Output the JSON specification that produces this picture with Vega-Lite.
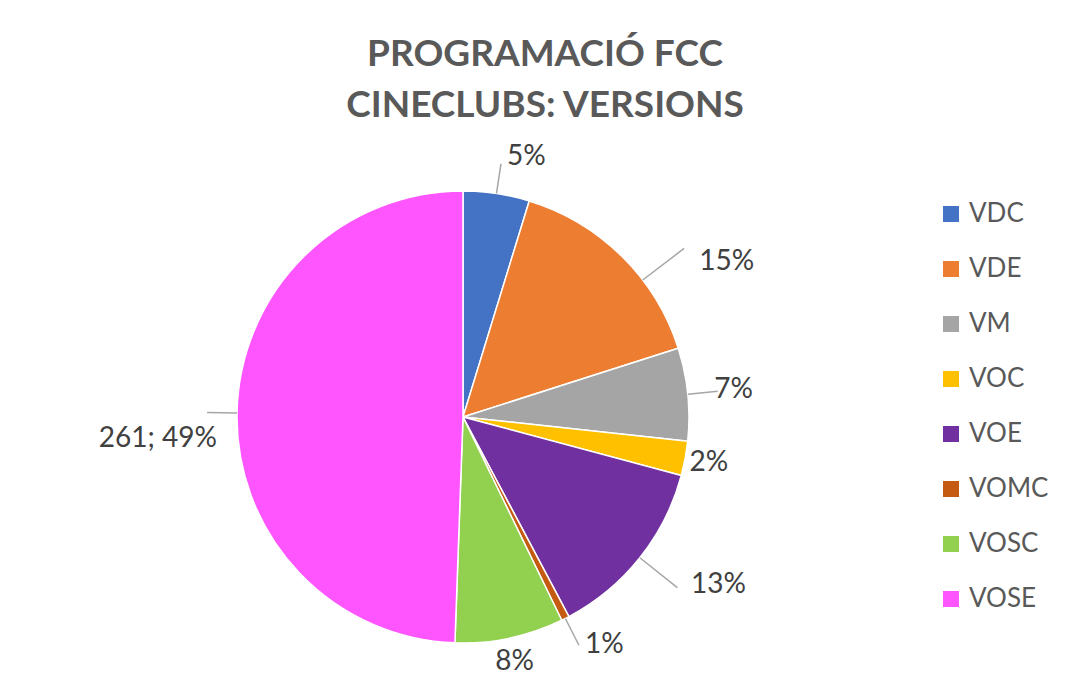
{
  "$schema": "https://vega.github.io/schema/vega-lite/v6.json",
  "width": 916,
  "height": 452,
  "padding": {"left": 5, "top": 35, "right": 0, "bottom": 0},
  "background": "white",
  "title": {
    "text": ["PROGRAMACIÓ FCC", "CINECLUBS: VERSIONS"],
    "font": "Lato",
    "fontSize": 37,
    "fontWeight": "bold",
    "color": "#595959",
    "lineHeight": 51,
    "offset": -27,
    "anchor": "middle",
    "frame": "group",
    "dx": 82
  },
  "data": {
    "values": [
      {"cat": "VDC", "count": 25, "label": "5%"},
      {"cat": "VDE", "count": 81, "label": "15%"},
      {"cat": "VM", "count": 35, "label": "7%"},
      {"cat": "VOC", "count": 13, "label": "2%"},
      {"cat": "VOE", "count": 69, "label": "13%"},
      {"cat": "VOMC", "count": 3, "label": "1%"},
      {"cat": "VOSC", "count": 41, "label": "8%"},
      {"cat": "VOSE", "count": 261, "label": "261; 49%"}
    ]
  },
  "encoding": {
    "theta": {"field": "count", "type": "quantitative", "stack": true},
    "order": {"field": "cat", "type": "nominal", "sort": "ascending"}
  },
  "layer": [
    {
      "mark": {"type": "arc", "radius": 226, "stroke": "white", "strokeWidth": 1.5},
      "encoding": {
        "color": {
          "field": "cat",
          "type": "nominal",
          "scale": {
            "domain": ["VDC", "VDE", "VM", "VOC", "VOE", "VOMC", "VOSC", "VOSE"],
            "range": ["#4472C4", "#ED7D31", "#A5A5A5", "#FFC000", "#7030A0", "#C55A11", "#92D050", "#FF55FF"]
          },
          "legend": {
            "title": null,
            "orient": "right",
            "offset": 7,
            "padding": 10,
            "symbolType": "square",
            "symbolSize": 256,
            "symbolStrokeWidth": 0,
            "labelFont": "Lato",
            "labelFontSize": 26,
            "labelColor": "#595959",
            "labelOffset": 5,
            "rowPadding": 29
          }
        }
      }
    },
    {
      "mark": {"type": "arc", "radius": 256, "radius2": 226, "padAngle": 3, "fill": "transparent", "stroke": "#A6A6A6", "strokeWidth": 1.5},
      "encoding": {
        "detail": {"field": "cat", "type": "nominal"},
        "strokeOpacity": {
          "condition": {"test": "datum.cat === 'VDC' || datum.cat === 'VM' || datum.cat === 'VOMC' || datum.cat === 'VOSE'", "value": 1},
          "value": 0
        }
      }
    },
    {
      "mark": {"type": "arc", "radius": 278, "radius2": 226, "padAngle": 3, "thetaOffset": 0.14, "fill": "transparent", "stroke": "#A6A6A6", "strokeWidth": 1.5},
      "encoding": {
        "detail": {"field": "cat", "type": "nominal"},
        "strokeOpacity": {
          "condition": {"test": "datum.cat === 'VDE'", "value": 1},
          "value": 0
        }
      }
    },
    {
      "mark": {"type": "arc", "radius": 274, "radius2": 226, "padAngle": 3, "fill": "transparent", "stroke": "#A6A6A6", "strokeWidth": 1.5},
      "encoding": {
        "detail": {"field": "cat", "type": "nominal"},
        "strokeOpacity": {
          "condition": {"test": "datum.cat === 'VOE'", "value": 1},
          "value": 0
        }
      }
    },
    {
      "mark": {"type": "text", "radius": 272, "font": "Lato", "fontSize": 28, "color": "#404040"},
      "encoding": {
        "detail": {"field": "cat", "type": "nominal"},
        "text": {
          "condition": {"test": "datum.cat === 'VM'", "field": "label", "type": "nominal"},
          "value": ""
        }
      }
    },
    {
      "mark": {"type": "text", "radius": 268, "thetaOffset": 0.09, "font": "Lato", "fontSize": 28, "color": "#404040"},
      "encoding": {
        "detail": {"field": "cat", "type": "nominal"},
        "text": {
          "condition": {"test": "datum.cat === 'VDC'", "field": "label", "type": "nominal"},
          "value": ""
        }
      }
    },
    {
      "mark": {"type": "text", "radius": 268, "thetaOffset": -0.085, "font": "Lato", "fontSize": 28, "color": "#404040"},
      "encoding": {
        "detail": {"field": "cat", "type": "nominal"},
        "text": {
          "condition": {"test": "datum.cat === 'VOMC'", "field": "label", "type": "nominal"},
          "value": ""
        }
      }
    },
    {
      "mark": {"type": "text", "radius": 250, "font": "Lato", "fontSize": 28, "color": "#404040"},
      "encoding": {
        "detail": {"field": "cat", "type": "nominal"},
        "text": {
          "condition": {"test": "datum.cat === 'VOC' || datum.cat === 'VOSC'", "field": "label", "type": "nominal"},
          "value": ""
        }
      }
    },
    {
      "mark": {"type": "text", "radius": 306, "thetaOffset": 0.26, "font": "Lato", "fontSize": 28, "color": "#404040"},
      "encoding": {
        "detail": {"field": "cat", "type": "nominal"},
        "text": {
          "condition": {"test": "datum.cat === 'VDE'", "field": "label", "type": "nominal"},
          "value": ""
        }
      }
    },
    {
      "mark": {"type": "text", "radius": 306, "thetaOffset": -0.09, "font": "Lato", "fontSize": 28, "color": "#404040"},
      "encoding": {
        "detail": {"field": "cat", "type": "nominal"},
        "text": {
          "condition": {"test": "datum.cat === 'VOE' || datum.cat === 'VOSE'", "field": "label", "type": "nominal"},
          "value": ""
        }
      }
    }
  ]
}
